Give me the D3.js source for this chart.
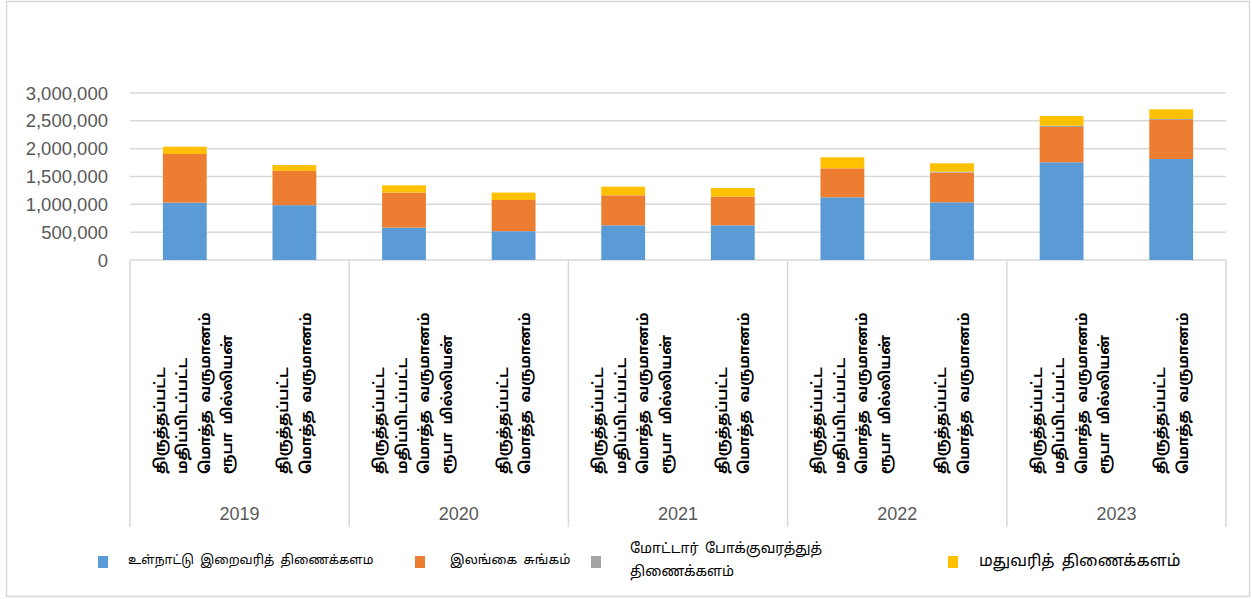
<!DOCTYPE html>
<html>
<head>
<meta charset="utf-8">
<script src="https://cdn.jsdelivr.net/npm/d3@7"></script>
<style>
  body { margin: 0; background: #fff; }
  .tick-label { font-family: "Liberation Sans", Arial, sans-serif; fill: #595959; }
  .ta { font-family: "Noto Sans Tamil", "Latha", "Lohit Tamil", "Noto Sans", sans-serif; fill: #000; }
</style>
</head>
<body>
<div id="vis"></div>
<script>
const width = 1252;
const height = 599;

// years (outer category level) and the two inner categories per year
const years = ["2019", "2020", "2021", "2022", "2023"];
const subKeys = ["revised", "total"];
const subLabels = [
  ["திருத்தப்பட்ட", "மதிப்பிடப்பட்ட", "மொத்த வருமானம்", "ரூபா மில்லியன்"],
  ["திருத்தப்பட்ட", "மொத்த வருமானம்"]
];

// series names (legend)
const seriesNames = [
  "உள்நாட்டு இறைவரித் திணைக்களம",
  "இலங்கை சுங்கம்",
  "மோட்டார் போக்குவரத்துத் திணைக்களம்",
  "மதுவரித் திணைக்களம்"
];
const seriesColors = ["#5B9BD5", "#ED7D31", "#A5A5A5", "#FFC000"];

// values, ordered 2019a, 2019b, 2020a, 2020b, ...
const inlandRevenue = [1030000, 985000, 582000, 517000, 623000, 623000, 1126000, 1036000, 1755000, 1814000];
const customs       = [874000, 615000, 629000, 561000, 539000, 515000, 521000, 533000, 634000, 701000];
const motorTraffic  = [0, 0, 0, 0, 0, 0, 0, 18000, 23000, 18000];
const excise        = [131000, 106000, 131000, 133000, 155000, 155000, 198000, 150000, 175000, 174000];

const yTicks = [0, 500000, 1000000, 1500000, 2000000, 2500000, 3000000];

window.onload = function () {
  const svg = d3.select("#vis").append("svg")
    .attr("width", width)
    .attr("height", height);

  // chart border
  svg.append("rect")
    .attr("x", 6.5).attr("y", 1.5)
    .attr("width", 1243).attr("height", 595)
    .attr("fill", "#fff")
    .attr("stroke", "#d9d9d9")
    .attr("stroke-width", 1.5);

  const x0 = d3.scaleBand().domain(years).range([130, 1226]);
  const x1 = d3.scaleBand().domain(subKeys).range([0, x0.bandwidth()])
    .paddingInner(0.6).paddingOuter(0.3);
  const y = d3.scaleLinear().domain([0, 3000000]).range([260, 93]);

  // gridlines
  svg.append("g").selectAll("line").data(yTicks).enter().append("line")
    .attr("x1", 130).attr("x2", 1226)
    .attr("y1", d => y(d)).attr("y2", d => y(d))
    .attr("stroke", "#d9d9d9").attr("stroke-width", 1.5);

  // y labels
  svg.append("g").selectAll("text").data(yTicks).enter().append("text")
    .attr("class", "tick-label")
    .attr("x", 108).attr("y", d => y(d))
    .attr("text-anchor", "end")
    .attr("dominant-baseline", "central")
    .style("font-size", "18.5px")
    .text(d => d3.format(",")(d));

  // rows for stacking
  const rows = [];
  years.forEach((yr, i) => {
    subKeys.forEach((k, j) => {
      const n = i * 2 + j;
      rows.push({ year: yr, sub: k, s0: inlandRevenue[n], s1: customs[n], s2: motorTraffic[n], s3: excise[n] });
    });
  });

  const stack = d3.stack().keys(["s0", "s1", "s2", "s3"]);
  const layers = stack(rows);

  svg.append("g").selectAll("g").data(layers).enter().append("g")
    .attr("fill", (d, i) => seriesColors[i])
    .selectAll("rect").data(d => d).enter().append("rect")
    .attr("x", d => x0(d.data.year) + x1(d.data.sub))
    .attr("width", x1.bandwidth())
    .attr("y", d => y(d[1]))
    .attr("height", d => y(d[0]) - y(d[1]));

  // category separators
  const seps = years.map(d => x0(d)).concat([x0.range()[1]]);
  svg.append("g").selectAll("line").data(seps).enter().append("line")
    .attr("x1", d => d).attr("x2", d => d)
    .attr("y1", 260).attr("y2", 527)
    .attr("stroke", "#d9d9d9").attr("stroke-width", 1.5);

  // year labels
  svg.append("g").selectAll("text").data(years).enter().append("text")
    .attr("class", "tick-label")
    .attr("x", d => x0(d) + x0.bandwidth() / 2)
    .attr("y", 514)
    .attr("text-anchor", "middle")
    .attr("dominant-baseline", "central")
    .style("font-size", "18px")
    .text(d => d);

  // rotated inner labels
  const lineStep = 22.5;
  const firstOffset = [-24, -10];
  rows.forEach(r => {
    const j = subKeys.indexOf(r.sub);
    const cx = x0(r.year) + x1(r.sub) + x1.bandwidth() / 2;
    subLabels[j].forEach((t, li) => {
      const lx = cx + firstOffset[j] + li * lineStep;
      svg.append("text")
        .attr("class", "ta")
        .attr("transform", "translate(" + lx + ",474) rotate(-90)")
        .attr("dominant-baseline", "central")
        .style("font-size", "14.5px")
        .style("font-weight", "bold")
        .style("word-spacing", "4px")
        .text(t);
    });
  });

  // legend
  const legend = [
    { sx: 98, tx: 128, ty: 561, size: 12.5, lines: [seriesNames[0]] },
    { sx: 415, tx: 450, ty: 561, size: 13, lines: [seriesNames[1]] },
    { sx: 591, tx: 630, ty: 549, size: 14, lines: ["மோட்டார் போக்குவரத்துத்", "திணைக்களம்"] },
    { sx: 948, tx: 979, ty: 562, size: 16, lines: [seriesNames[3]] }
  ];
  legend.forEach((l, i) => {
    svg.append("rect")
      .attr("x", l.sx).attr("y", 556)
      .attr("width", 10).attr("height", 12)
      .attr("fill", seriesColors[i]);
    l.lines.forEach((t, k) => {
      svg.append("text")
        .attr("class", "ta")
        .attr("x", l.tx).attr("y", l.ty + k * 23)
        .attr("dominant-baseline", "central")
        .style("font-size", l.size + "px")
        .style("word-spacing", "3px")
        .text(t);
    });
  });
};
</script>
</body>
</html>
